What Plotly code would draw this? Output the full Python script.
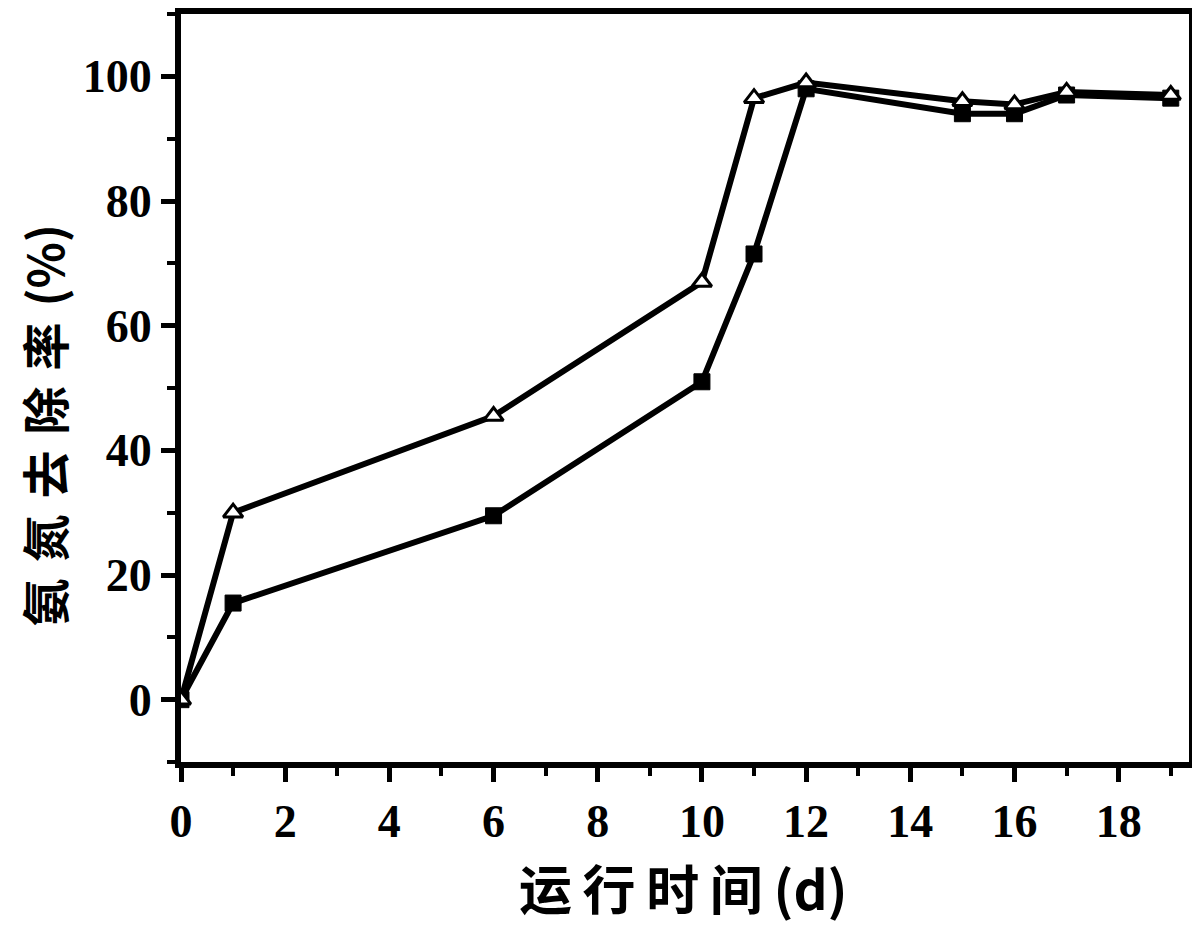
import plotly.graph_objects as go

days = [0, 1, 6, 10, 11, 12, 15, 16, 17, 19]
series_square = [0, 15.5, 29.5, 51, 71.5, 98, 94, 94, 97, 96.5]
series_triangle = [0, 30, 45.5, 67, 96.5, 99, 96, 95.5, 97.5, 97]
x_ticks = [0, 2, 4, 6, 8, 10, 12, 14, 16, 18]
y_ticks = [0, 20, 40, 60, 80, 100]
x_title = "运行时间(d)"
y_title = "氨氮去除率(%)"

fig = go.Figure()
fig.add_trace(go.Scatter(
    x=days, y=series_square, mode="lines+markers",
    line=dict(color="black", width=6),
    marker=dict(symbol="square", size=16, color="black", line=dict(color="black", width=1)),
    showlegend=False,
))
fig.add_trace(go.Scatter(
    x=days, y=series_triangle, mode="lines+markers",
    line=dict(color="black", width=6),
    marker=dict(symbol="triangle-up", size=17, color="white", line=dict(color="black", width=3)),
    showlegend=False,
))

tickfont = dict(family="Liberation Serif", size=46, color="black")
title_font = dict(family="Noto Sans CJK SC", color="black")

fig.update_layout(
    width=1192, height=918,
    paper_bgcolor="white", plot_bgcolor="white",
    margin=dict(l=173, r=11, t=0, b=164),
    font=dict(family="Liberation Serif", color="black"),
    annotations=[
        dict(text="<b>" + "\u2009".join(list(x_title[:4])) + "\u2009" + x_title[4:] + "</b>",
             xref="paper", yref="paper", x=0.499, y=-0.167,
             xanchor="center", yanchor="middle", showarrow=False,
             font=dict(size=53, **title_font)),
        dict(text="<b>" + "\u2004".join(list(y_title[:5])) + "\u2004" + y_title[5:] + "</b>",
             xref="paper", yref="paper", x=-0.137, y=0.451,
             xanchor="center", yanchor="middle", showarrow=False, textangle=-90,
             font=dict(size=48, **title_font)),
    ],
)
fig.update_xaxes(
    range=[0, 19.35], tickvals=x_ticks, ticktext=[f"<b>{v}</b>" for v in x_ticks],
    ticks="outside", ticklen=14, tickwidth=5, tickcolor="black",
    minor=dict(dtick=1, ticks="outside", ticklen=8, tickwidth=4, tickcolor="black"),
    showline=True, linewidth=6, linecolor="black", mirror=True,
    showgrid=False, zeroline=False, tickfont=tickfont,
)
fig.update_yaxes(
    range=[-10, 110], tickvals=y_ticks, ticktext=[f"<b>{v}</b>" for v in y_ticks],
    ticks="outside", ticklen=14, tickwidth=5, tickcolor="black",
    minor=dict(dtick=10, tick0=0, ticks="outside", ticklen=8, tickwidth=4, tickcolor="black"),
    showline=True, linewidth=6, linecolor="black", mirror=True,
    showgrid=False, zeroline=False, tickfont=tickfont,
)
fig.write_html("out.html")
